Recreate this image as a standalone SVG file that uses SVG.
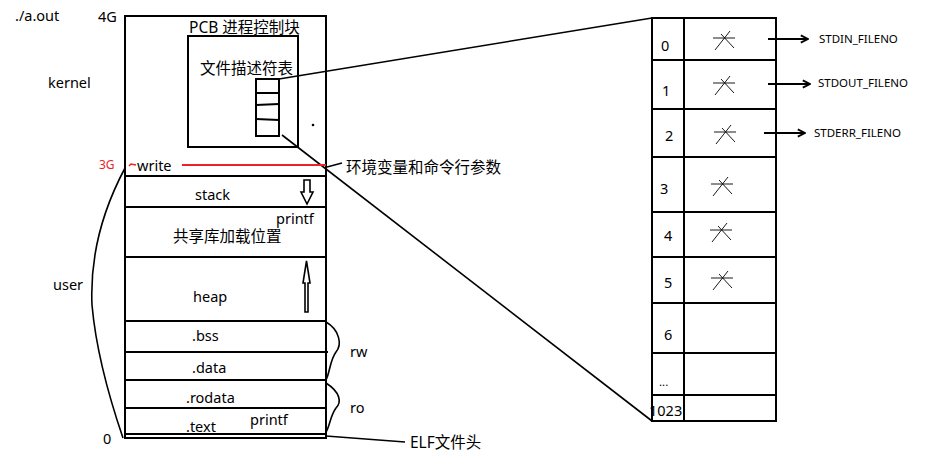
<svg xmlns="http://www.w3.org/2000/svg" width="936" height="473" viewBox="0 0 936 473">
<style>
text{font-family:"Noto Sans","Noto Sans CJK SC",sans-serif;fill:#000;font-size:14.5px}
.cjk{font-size:15.5px}
.sm{font-size:11.5px}
.red{fill:#e8232a;font-size:12px}
.box{fill:none;stroke:#000;stroke-width:2}
.ln{fill:none;stroke:#000;stroke-width:1.6}
.arr{fill:none;stroke:#000;stroke-width:2}
</style>
<defs>
<marker id="open" viewBox="0 0 10 10" refX="9" refY="5" markerWidth="9" markerHeight="10" markerUnits="userSpaceOnUse" orient="auto">
<path d="M1,1 L9,5 L1,9" fill="none" stroke="#000" stroke-width="2"/>
</marker>
<g id="x">
<path d="M-11,-2 L11,-2 M-9,10 L6,-9 M-3,-6 L10,8" fill="none" stroke="#000" stroke-width="0.9"/>
</g>
</defs>
<rect width="936" height="473" fill="#fff"/>

<g id="labels-left">
<text x="15" y="21">./a.out</text>
<text x="98" y="22">4G</text>
<text x="48" y="88">kernel</text>
<text x="53" y="290">user</text>
<text x="103" y="444">0</text>
<text class="red" x="99" y="169">3G</text>
</g>

<g id="memory">
<rect class="box" x="125" y="16" width="201" height="422"/>
<line class="box" x1="125" y1="176" x2="326" y2="176"/>
<line class="box" x1="125" y1="207" x2="326" y2="207"/>
<line class="box" x1="125" y1="257" x2="326" y2="257"/>
<line class="box" x1="125" y1="321" x2="326" y2="321"/>
<line class="box" x1="125" y1="352" x2="328" y2="352"/>
<line class="box" x1="125" y1="380" x2="326" y2="380"/>
<line class="box" x1="125" y1="408" x2="326" y2="408"/>
<line class="box" x1="125" y1="434" x2="326" y2="434"/>
<text x="137" y="171">write</text>
<text x="195" y="200">stack</text>
<text x="276" y="224">printf</text>
<text class="cjk" x="173" y="242">共享库加载位置</text>
<text x="193" y="302">heap</text>
<text x="192" y="341">.bss</text>
<text x="192" y="373">.data</text>
<text x="186" y="403">.rodata</text>
<text x="186" y="432">.text</text>
<text x="250" y="425">printf</text>
<path class="ln" d="M304,180 L310,180 L310,192 L313,192 L307,204 L301,192 L304,192 Z"/>
<path class="ln" d="M305,312 L305,283 L303,283 L306.5,261 L310,283 L308,283 L308,312 Z"/>
<circle cx="313" cy="125" r="1.3" fill="#000"/>
</g>

<g id="pcb">
<rect class="box" x="188" y="36" width="110" height="111"/>
<text class="cjk" x="189" y="33">PCB 进程控制块</text>
<text class="cjk" x="200" y="74">文件描述符表</text>
<rect class="box" x="256" y="79" width="23" height="57"/>
<line class="box" x1="256" y1="93" x2="279" y2="93"/>
<line class="box" x1="256" y1="105" x2="279" y2="104"/>
<line class="box" x1="256" y1="119" x2="279" y2="120"/>
</g>

<g id="fd-table">
<rect class="box" x="652" y="18" width="124" height="403"/>
<line class="box" x1="684" y1="18" x2="684" y2="421"/>
<line class="box" x1="652" y1="60" x2="776" y2="60"/>
<line class="box" x1="652" y1="109" x2="776" y2="109"/>
<line class="box" x1="652" y1="157" x2="776" y2="157"/>
<line class="box" x1="652" y1="212" x2="776" y2="212"/>
<line class="box" x1="652" y1="257" x2="776" y2="257"/>
<line class="box" x1="652" y1="303" x2="776" y2="303"/>
<line class="box" x1="652" y1="353" x2="776" y2="353"/>
<line class="box" x1="652" y1="395" x2="776" y2="395"/>
<text x="661" y="51">0</text>
<text x="662" y="96">1</text>
<text x="665" y="141">2</text>
<text x="660" y="194">3</text>
<text x="664" y="241">4</text>
<text x="664" y="288">5</text>
<text x="664" y="340">6</text>
<text x="659" y="386" class="sm">...</text>
<text x="649" y="416">1023</text>
<use href="#x" x="724" y="40"/>
<use href="#x" x="724" y="85"/>
<use href="#x" x="725" y="134"/>
<use href="#x" x="722" y="186"/>
<use href="#x" x="721" y="232"/>
<use href="#x" x="722" y="280"/>
<text class="sm" x="819" y="43">STDIN_FILENO</text>
<text class="sm" x="818" y="87">STDOUT_FILENO</text>
<text class="sm" x="814" y="137">STDERR_FILENO</text>
</g>

<g id="connectors">
<path class="ln" d="M279,79 L652,18"/>
<path class="ln" d="M282,135 L652,421"/>
<path stroke="#e8232a" stroke-width="2" fill="none" d="M182,165 L326,165"/>
<path stroke="#e8232a" stroke-width="1.5" fill="none" d="M129,166 L131,164 L136,165"/>
<path class="ln" d="M327,167 L342,163"/>
<text class="cjk" x="346" y="173">环境变量和命令行参数</text>
<path class="ln" d="M125,168 C100,215 90,260 92,305 C96,350 110,400 123,438"/>
<path class="ln" d="M326,322 C340,330 342,345 336,352 C330,360 330,372 326,380"/>
<text x="350" y="357">rw</text>
<path class="ln" d="M326,383 C340,392 342,402 336,408 C330,416 330,426 326,432"/>
<text x="350" y="413">ro</text>
<path class="ln" d="M326,436 L405,442"/>
<text class="cjk" x="410" y="448">ELF文件头</text>
<path class="arr" d="M768,39 L808,39" marker-end="url(#open)"/>
<path class="arr" d="M768,84 L810,84" marker-end="url(#open)"/>
<path class="arr" d="M764,133 L805,133" marker-end="url(#open)"/>
</g>
</svg>
